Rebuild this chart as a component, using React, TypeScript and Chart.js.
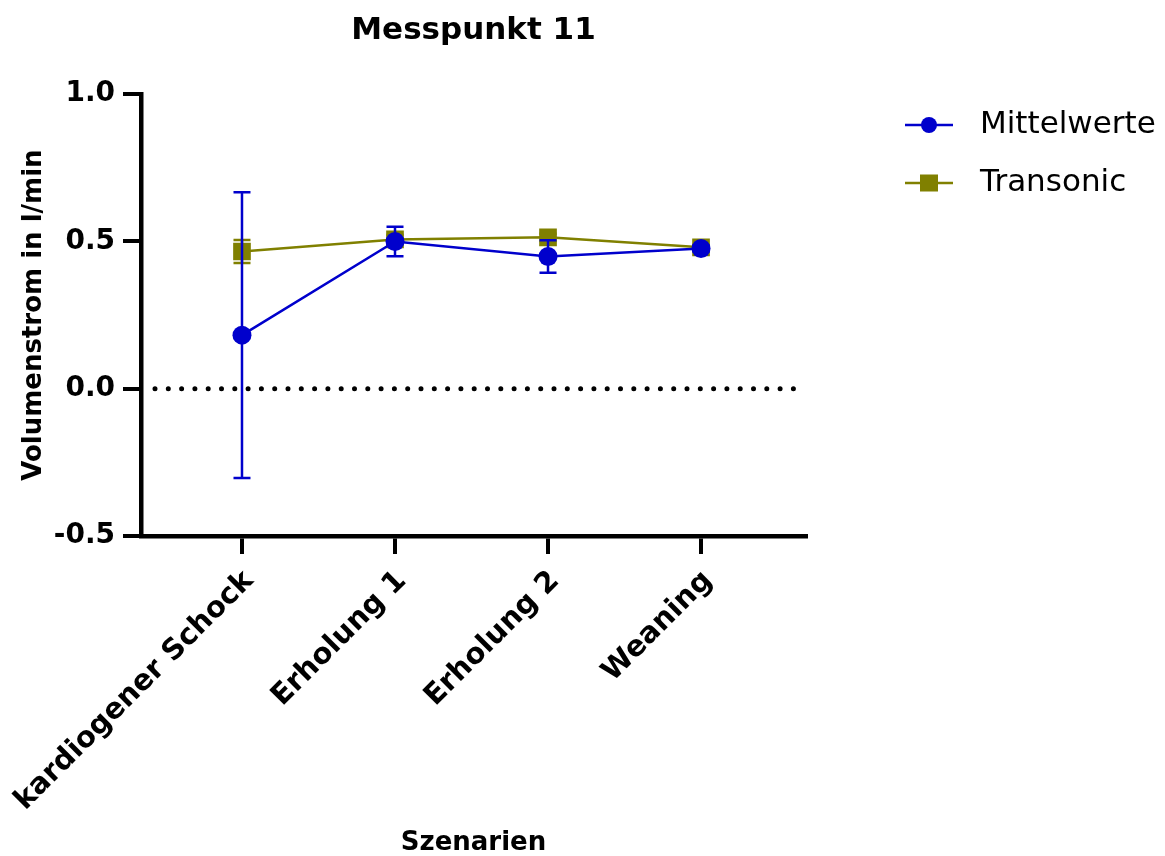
import { useEffect, useRef } from 'react';
import { Chart, registerables } from 'chart.js';

Chart.register(...registerables);

// Scenarios along the x axis
const categories = ['kardiogener Schock', 'Erholung 1', 'Erholung 2', 'Weaning'];

// Mean flow from the measurement point, with its spread
const mittelwerte = [0.182, 0.5, 0.449, 0.476];
const mittelwerteErr = [0.485, 0.05, 0.055, 0.01];

// Reference flow from the Transonic probe, with its spread
const transonic = [0.466, 0.507, 0.514, 0.48];
const transonicErr = [0.039, 0.015, 0.012, 0.01];

const yMin = -0.5;
const yMax = 1.0;
const yStep = 0.5;

const FONT = "'DejaVu Sans', 'Liberation Sans', sans-serif";
const BLUE = '#0000CC';
const OLIVE = '#808000';

const toPoints = (values: number[]) => values.map((y, x) => ({ x, y }));

// Vertical error bars with caps, drawn just before each dataset's own line and markers
const errorBarPlugin = {
  id: 'errorBars',
  beforeDatasetDraw(chart: any, args: any) {
    const ds = chart.data.datasets[args.index];
    const errs: number[] | undefined = ds.errors;
    if (!errs) return;
    const meta = chart.getDatasetMeta(args.index);
    const yScale = chart.scales.y;
    const ctx = chart.ctx;
    ctx.save();
    ctx.strokeStyle = ds.borderColor;
    ctx.lineWidth = 2.5;
    meta.data.forEach((el: any, i: number) => {
      const v = ds.data[i].y;
      const e = errs[i];
      const top = yScale.getPixelForValue(v + e);
      const bottom = yScale.getPixelForValue(v - e);
      const x = el.x;
      ctx.beginPath();
      ctx.moveTo(x, top);
      ctx.lineTo(x, bottom);
      ctx.moveTo(x - 8.5, top);
      ctx.lineTo(x + 8.5, top);
      ctx.moveTo(x - 8.5, bottom);
      ctx.lineTo(x + 8.5, bottom);
      ctx.stroke();
    });
    ctx.restore();
  },
};

// Dotted reference line at zero
const zeroLinePlugin = {
  id: 'zeroLine',
  beforeDatasetsDraw(chart: any) {
    const { ctx, chartArea, scales } = chart;
    const y = scales.y.getPixelForValue(0);
    ctx.save();
    ctx.strokeStyle = '#000';
    ctx.lineWidth = 5;
    ctx.lineCap = 'round';
    ctx.setLineDash([0, 13.3]);
    ctx.beginPath();
    ctx.moveTo(chartArea.left + 14, y);
    ctx.lineTo(chartArea.right - 10, y);
    ctx.stroke();
    ctx.restore();
  },
};

// Legend on the right: a short line through the series marker, then the label
const sideLegendPlugin = {
  id: 'sideLegend',
  afterDraw(chart: any) {
    const { ctx, chartArea } = chart;
    const x0 = chartArea.right + 99;
    const x1 = x0 + 48;
    const xm = (x0 + x1) / 2;
    ctx.save();
    chart.data.datasets.forEach((ds: any, i: number) => {
      const y = 125 + i * 58;
      ctx.strokeStyle = ds.borderColor;
      ctx.lineWidth = 2.5;
      ctx.beginPath();
      ctx.moveTo(x0, y);
      ctx.lineTo(x1, y);
      ctx.stroke();
      ctx.fillStyle = ds.borderColor;
      if (ds.pointStyle === 'rect') {
        ctx.fillRect(xm - 9, y - 8.5, 18, 17);
      } else {
        ctx.beginPath();
        ctx.arc(xm, y, 8, 0, Math.PI * 2);
        ctx.fill();
      }
      ctx.fillStyle = '#000';
      ctx.font = `31px ${FONT}`;
      ctx.textAlign = 'left';
      ctx.textBaseline = 'middle';
      ctx.fillText(ds.label, x1 + 27, y);
    });
    ctx.restore();
  },
};

export default function App() {
  const canvasRef = useRef<HTMLCanvasElement | null>(null);

  useEffect(() => {
    if (!canvasRef.current) return;
    const chart = new Chart(canvasRef.current, {
      type: 'line',
      data: {
        datasets: [
          {
            label: 'Mittelwerte',
            data: toPoints(mittelwerte),
            errors: mittelwerteErr,
            borderColor: BLUE,
            backgroundColor: BLUE,
            borderWidth: 2.5,
            pointStyle: 'circle',
            pointRadius: 9.5,
            pointBorderWidth: 0,
            pointBackgroundColor: BLUE,
            tension: 0,
          } as any,
          {
            label: 'Transonic',
            data: toPoints(transonic),
            errors: transonicErr,
            borderColor: OLIVE,
            backgroundColor: OLIVE,
            borderWidth: 2.5,
            pointStyle: 'rect',
            pointRadius: 12.5,
            pointBorderWidth: 0,
            pointBackgroundColor: OLIVE,
            tension: 0,
          } as any,
        ],
      },
      options: {
        animation: false,
        responsive: true,
        maintainAspectRatio: false,
        layout: { padding: { top: 0, right: 359, bottom: 0, left: 0 } },
        plugins: {
          legend: { display: false },
          tooltip: { enabled: false },
          title: {
            display: true,
            text: 'Messpunkt 11',
            fullSize: false,
            color: '#000',
            font: { family: FONT, size: 31, weight: 'bold' },
            padding: { top: 12, bottom: 45 },
          },
        },
        scales: {
          x: {
            type: 'linear',
            min: -0.66,
            max: 3.686,
            afterBuildTicks: (axis: any) => {
              axis.ticks = categories.map((_, i) => ({ value: i }));
            },
            afterFit: (axis: any) => {
              axis.height = 320;
              axis.paddingLeft = 0;
              axis.paddingRight = 0;
            },
            ticks: {
              autoSkip: false,
              maxRotation: 45,
              minRotation: 45,
              padding: 10,
              labelOffset: 7,
              color: '#000',
              font: { family: FONT, size: 29, weight: 'bold' },
              callback: (v: any) => categories[Number(v)] ?? '',
            },
            grid: {
              drawOnChartArea: false,
              drawTicks: true,
              tickLength: 18,
              color: '#000',
              lineWidth: 4,
            },
            border: { display: true, color: '#000', width: 4.5 },
            title: {
              display: true,
              text: 'Szenarien',
              color: '#000',
              font: { family: FONT, size: 26, weight: 'bold', lineHeight: 1.0 },
              padding: { top: 0, bottom: 0 },
            },
          },
          y: {
            type: 'linear',
            min: yMin,
            max: yMax,
            afterFit: (axis: any) => {
              axis.width = 141;
              axis.paddingTop = 0;
              axis.paddingBottom = 0;
            },
            ticks: {
              stepSize: yStep,
              padding: 8,
              color: '#000',
              font: { family: FONT, size: 28, weight: 'bold' },
              callback: (v: any) => Number(v).toFixed(1),
            },
            grid: {
              drawOnChartArea: false,
              drawTicks: true,
              tickLength: 18,
              color: '#000',
              lineWidth: 4,
            },
            border: { display: true, color: '#000', width: 4.5 },
            title: {
              display: true,
              text: 'Volumenstrom in l/min',
              color: '#000',
              font: { family: FONT, size: 26, weight: 'bold' },
              padding: { top: 19, bottom: 0 },
            },
          },
        },
      } as any,
      plugins: [zeroLinePlugin, errorBarPlugin, sideLegendPlugin],
    });
    return () => chart.destroy();
  }, []);

  return (
    <div style={{ position: 'fixed', left: 0, top: 0, width: 1165, height: 856, background: '#fff' }}>
      <canvas ref={canvasRef} />
    </div>
  );
}
